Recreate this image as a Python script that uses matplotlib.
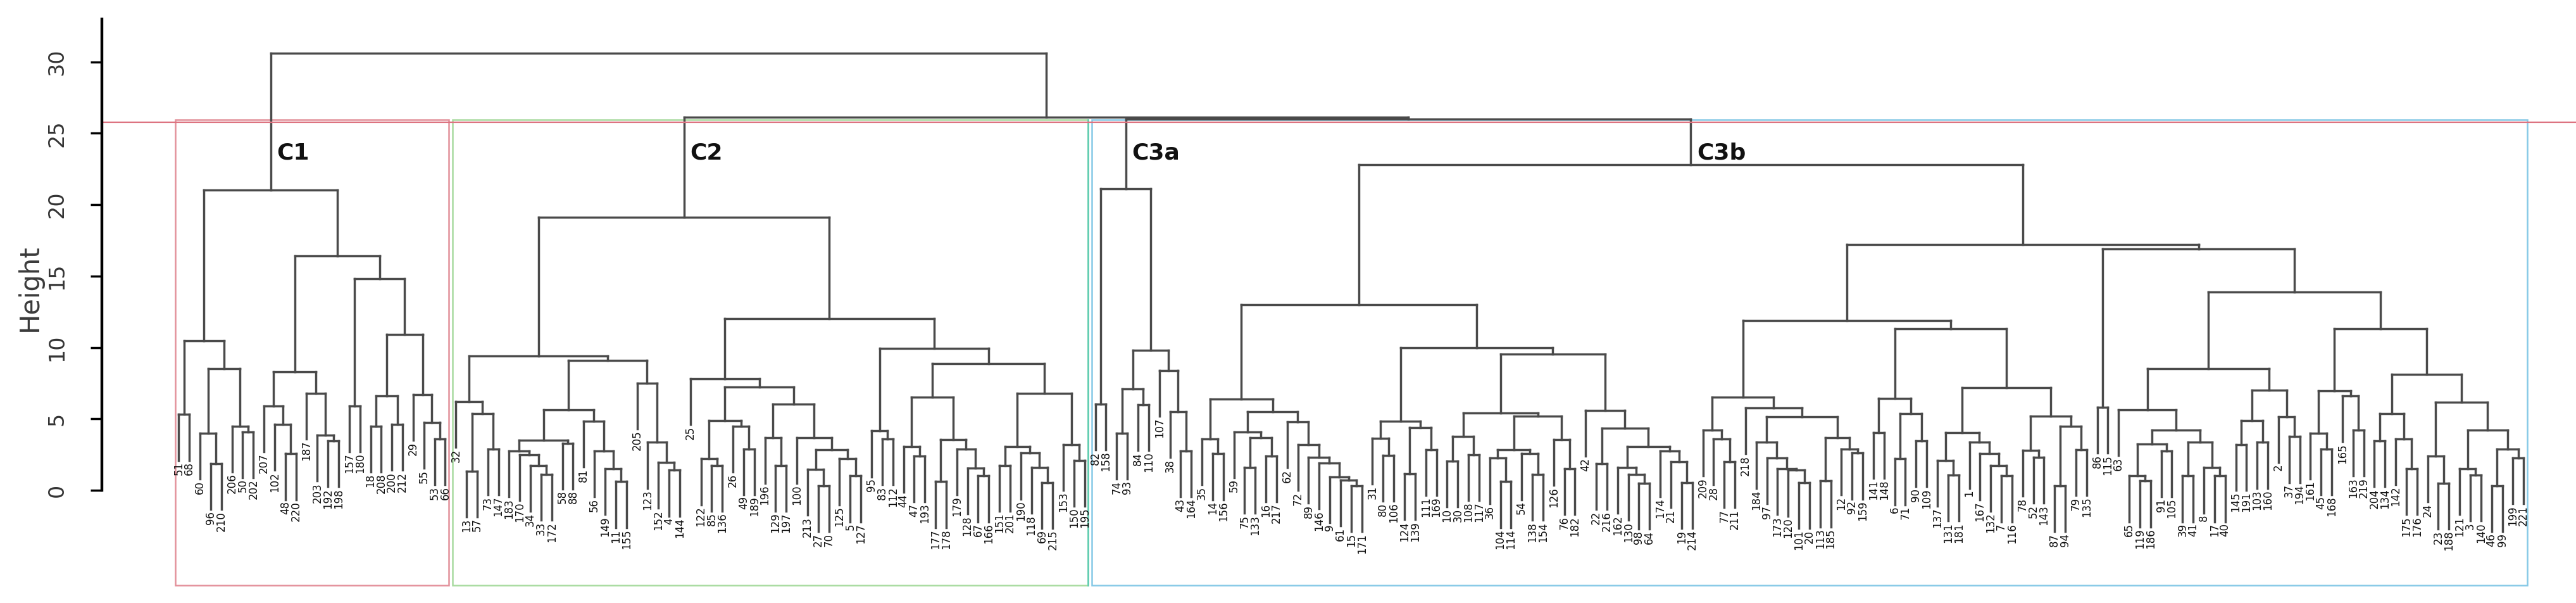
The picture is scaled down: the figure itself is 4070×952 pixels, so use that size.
import matplotlib
matplotlib.use('Agg')
import matplotlib.pyplot as plt
from matplotlib.collections import LineCollection
from matplotlib.patches import Rectangle


# Each node is (merge height, left, right); a plain int is a leaf label.
c1_tree = (21.0,
           (10.45, (5.3, 51, 68),
                   (8.5, (4.0, 60, (1.85, 96, 210)),
                         (4.5, 206, (4.1, 50, 202)))),
           (16.4, (8.3, (5.9, 207, (4.6, 102, (2.55, 48, 220))),
                        (6.8, 187, (3.85, 203, (3.45, 192, 198)))),
                  (14.8, (5.9, 157, 180),
                         (10.9, (6.6, (4.5, 18, 208), (4.6, 200, 212)),
                                (6.7, 29, (4.75, 55, (3.6, 53, 66)))))))

c2_tree = (19.1,
           (9.4, (6.2, 32, (5.35, (1.35, 13, 57), (2.9, 73, 147))),
                 (9.1, (5.65, (3.5, (2.75, 183, (2.5, 170, (1.75, 34, (1.1, 33, 172)))),
                                    (3.3, 58, 88)),
                              (4.85, 81, (2.75, 56, (1.5, 149, (0.6, 11, 155))))),
                       (7.5, 205, (3.35, 123, (1.95, 152, (1.4, 4, 144)))))),
           (12.0, (7.8, 25, (7.25, (4.9, (2.2, 122, (1.75, 85, 136)), (4.5, 26, (2.9, 49, 189))),
                                   (6.05, (3.7, 196, (1.75, 129, 197)),
                                          (3.7, 100, (2.85, (1.45, 213, (0.3, 27, 70)),
                                                            (2.2, 125, (1.0, 5, 127))))))),
                  (9.95, (4.15, 95, (3.6, 83, 112)),
                         (8.85, (6.5, (3.05, 44, (2.4, 47, 193)),
                                      (3.55, (0.6, 177, 178),
                                             (2.9, 179, (1.55, 128, (1.0, 67, 166))))),
                                (6.8, (3.05, (1.75, 151, 201),
                                             (2.6, 190, (1.6, 118, (0.55, 69, 215)))),
                                      (3.2, 153, (2.1, 150, 195)))))))

c3a_tree = (21.1, (6.05, 82, 158),
            (9.8, (7.1, (4.0, 74, 93), (6.0, 84, 110)),
                  (8.4, 107, (5.5, 38, (2.75, 43, 164)))))

c3b_left = (13.0,
            (6.4, (3.6, 35, (2.55, 14, 156)),
                  (5.5, (4.1, 59, (3.7, (1.6, 75, 133), (2.4, 16, 217))),
                        (4.8, 62, (3.2, 72, (2.3, 89, (1.9, 146, (0.95, 9, (0.7, 61, (0.3, 15, 171))))))))),
            (10.0, (4.85, (3.65, 31, (2.45, 80, 106)), (4.4, (1.15, 124, 139), (2.85, 111, 169))),
                   (9.55, (5.4, (3.75, (2.05, 10, 30), (2.5, 108, 117)),
                                (5.2, (2.85, (2.25, 36, (0.6, 104, 114)), (2.55, 54, (1.1, 138, 154))),
                                      (3.55, 126, (1.5, 76, 182)))),
                          (5.6, 42, (4.35, (1.85, 22, 216),
                                           (3.05, (1.6, 162, (1.1, 130, (0.5, 98, 64))),
                                                  (2.75, 174, (2.0, 21, (0.55, 19, 214)))))))))

c3b_right = (17.2,
             (11.9, (6.5, (4.2, 209, (3.6, 28, (2.0, 77, 211))),
                          (5.75, 218, (5.15, (3.35, 184, (2.25, 97, (1.5, 173, (1.4, 120, (0.55, 101, 20))))),
                                             (3.7, (0.65, 113, 185), (2.9, 12, (2.6, 92, 159)))))),
                    (11.3, (6.45, (4.05, 141, 148), (5.35, (2.2, 6, 71), (3.45, 90, 109))),
                           (7.2, (4.05, (2.1, 137, (1.05, 131, 181)),
                                        (3.35, 1, (2.55, 167, (1.75, 132, (1.0, 7, 116))))),
                                 (5.2, (2.8, 78, (2.3, 52, 143)), (4.5, (0.3, 87, 94), (2.85, 79, 135)))))),
             (16.9, (5.8, 86, 115),
                    (13.9, (8.5, (5.65, 63, (4.2, (3.25, (1.0, 65, (0.65, 119, 186)), (2.75, 91, 105)),
                                                  (3.35, (1.0, 39, 41), (1.6, 8, (1.0, 17, 40))))),
                                 (7.0, (4.9, (3.2, 145, 191), (3.35, 103, 160)), (5.15, 2, (3.75, 37, 194)))),
                           (11.3, (6.95, (4.0, 161, (2.9, 45, 168)), (6.6, 165, (4.2, 163, 219))),
                                  (8.1, (5.35, (3.45, 204, 134), (3.6, 142, (1.5, 175, 176))),
                                        (6.15, (2.4, 24, (0.5, 23, 188)),
                                               (4.2, (1.5, 121, (1.05, 3, 140)),
                                                     (2.9, (0.3, 46, 99), (2.25, 199, 221)))))))))

c3b_height = 22.8
c3_height = 26.0
c2_c3_height = 26.1
root_height = 30.6
cut_height = 25.75
hang = 3.2

cluster_names = ['C1', 'C2', 'C3a', 'C3b']
y_ticks = [0, 5, 10, 15, 20, 25, 30]

c3b_tree = (c3b_height, c3b_left, c3b_right)
tree = (root_height, c1_tree, (c2_c3_height, c2_tree, (c3_height, c3a_tree, c3b_tree)))

segments = []
leaves = []
node_x = {}


def place(node, parent_h):
    # walk the tree left to right, leaves get x = 1, 2, 3 ...
    if isinstance(node, int):
        x = len(leaves) + 1
        bottom = parent_h - hang
        leaves.append((x, bottom, node))
        return x, bottom
    h, left, right = node
    xl, tl = place(left, h)
    xr, tr = place(right, h)
    segments.append([(xl, tl), (xl, h)])
    segments.append([(xr, tr), (xr, h)])
    segments.append([(xl, h), (xr, h)])
    node_x[id(node)] = (xl + xr) / 2
    return (xl + xr) / 2, h


place(tree, root_height)


def count_leaves(node):
    if isinstance(node, int):
        return 1
    return count_leaves(node[1]) + count_leaves(node[2])


W, H = 4070, 952
fig = plt.figure(figsize=(W / 100, H / 100), dpi=100)
fig.set_facecolor('white')
ax_left = 161
ax = fig.add_axes([ax_left / W, 0, 1 - ax_left / W, 1])
leaf_px = 16.84
ax.set_xlim(1 - (282.4 - ax_left) / leaf_px, 1 - (282.4 - ax_left) / leaf_px + (W - ax_left) / leaf_px)
unit_px = 22.55
ax.set_ylim(-178 / unit_px, (H - 178) / unit_px)

ax.add_collection(LineCollection(segments, colors='#4a4a4a', linewidths=2.5, capstyle='projecting'))

for x, bottom, label in leaves:
    ax.text(x, bottom - 0.12, str(label), rotation=90, ha='center', va='top',
            fontsize=12, color='#111111')

# cluster boxes like rect.hclust
n1 = count_leaves(c1_tree)
n2 = count_leaves(c2_tree)
n_all = len(leaves)
box_bottom = -6.65
box_top = 25.95
boxes = [(0.66, n1 + 0.33, '#e3919b'),
         (n1 + 0.66, n1 + n2 + 0.33, '#a8dba0'),
         (n1 + n2 + 0.66, n_all + 0.33, '#86c9e6')]
for x0, x1, col in boxes:
    ax.add_patch(Rectangle((x0, box_bottom), x1 - x0, box_top - box_bottom,
                           fill=False, edgecolor=col, linewidth=1.8))
ax.plot([n1 + n2 + 0.33] * 2, [box_bottom, box_top], color='#5ccdb4', linewidth=1.8)

ax.axhline(cut_height, color='#dd7380', linewidth=1.6)

for name, node in zip(cluster_names, [c1_tree, c2_tree, c3a_tree, c3b_tree]):
    ax.text(node_x[id(node)] + 0.6, 23.6, name, fontsize=26, fontweight='bold',
            ha='left', va='center', color='#111111')

for side in ['top', 'right', 'bottom']:
    ax.spines[side].set_visible(False)
ax.spines['left'].set_bounds(0, 33)
ax.spines['left'].set_linewidth(3.2)
ax.set_xticks([])
ax.set_yticks(y_ticks)
ax.tick_params(axis='y', length=13, width=2.5, pad=26, labelsize=24,
               labelcolor='#333333', labelrotation=90)
for lab in ax.get_yticklabels():
    lab.set_va('center')
fig.text(47 / W, 1 - 454 / H, 'Height', rotation=90, fontsize=30,
         color='#3a3a3a', ha='center', va='center')

fig.savefig('out.png', dpi=100)
